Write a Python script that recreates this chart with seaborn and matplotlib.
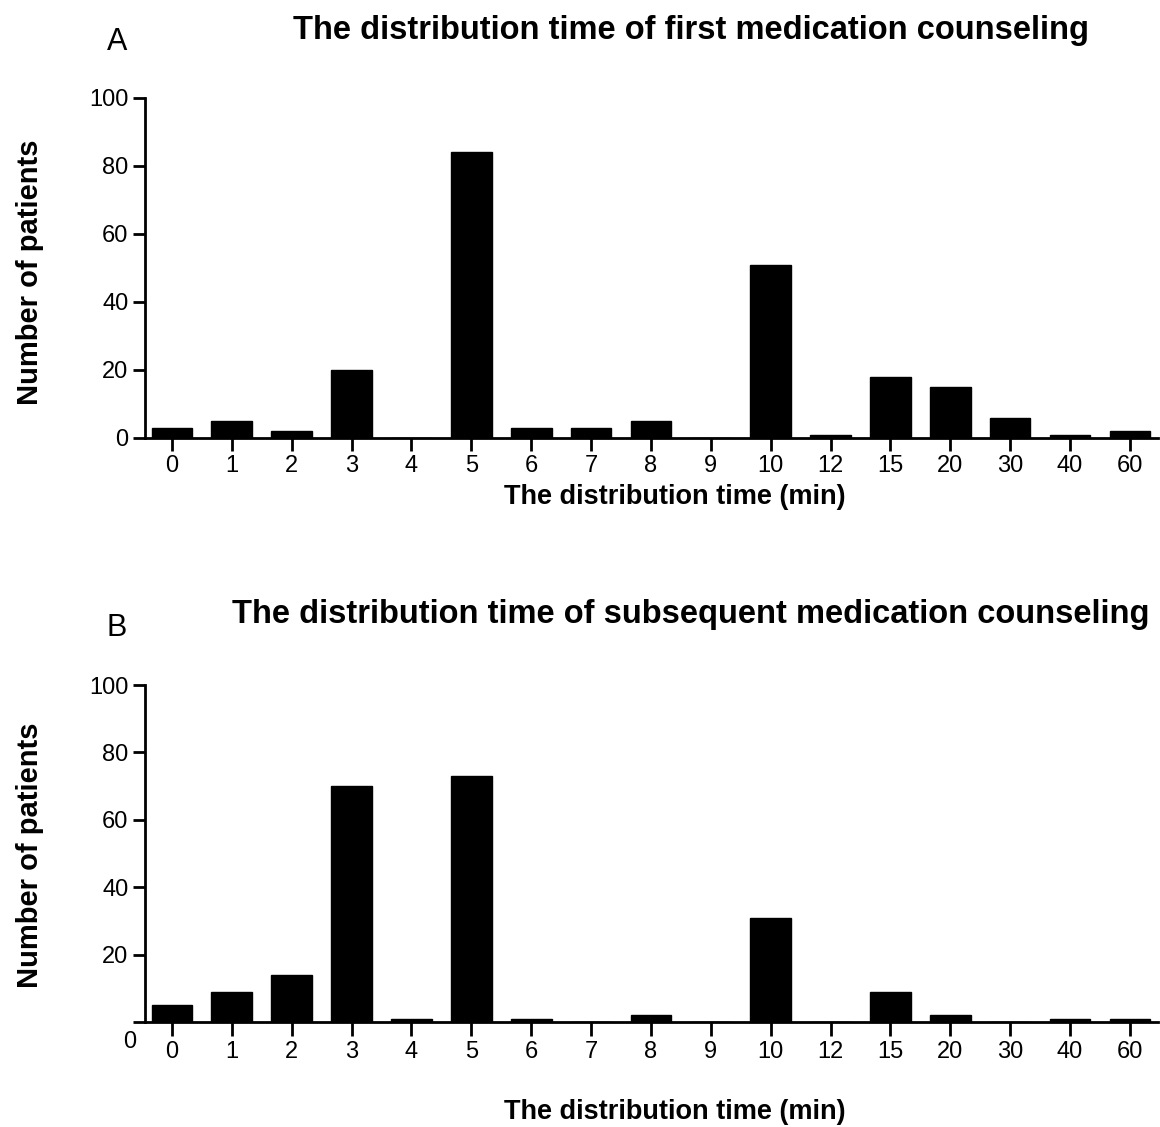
import numpy as np
import pandas as pd
import seaborn as sns
import matplotlib
matplotlib.use('Agg')
import matplotlib.pyplot as plt

# distribution time categories (min)
times = ['0', '1', '2', '3', '4', '5', '6', '7', '8', '9',
         '10', '12', '15', '20', '30', '40', '60']

# number of patients
first_counts = [3, 5, 2, 20, 0, 84, 3, 3, 5, 0, 51, 1, 18, 15, 6, 1, 2]
subsequent_counts = [5, 9, 14, 70, 1, 73, 1, 0, 2, 0, 31, 0, 9, 2, 0, 1, 1]

titles = ['The distribution time of first medication counseling',
          'The distribution time of subsequent medication counseling']
letters = ['A', 'B']

sns.set_style('ticks', rc={'text.color': 'black', 'axes.labelcolor': 'black',
                           'xtick.color': 'black', 'ytick.color': 'black',
                           'axes.edgecolor': 'black'})
plt.rcParams['font.family'] = ['Liberation Sans', 'DejaVu Sans']

W, H = 1160, 1127
fig = plt.figure(figsize=(W / 100, H / 100), dpi=100)


def px(x, y):
    # pixel position -> figure fraction
    return x / W, 1 - y / H


ax_a = fig.add_axes([145 / W, 1 - 438 / H, (1158 - 145) / W, (438 - 98) / H])
ax_b = fig.add_axes([145 / W, 1 - 1022 / H, (1158 - 145) / W, (1022 - 685) / H])

# panel layout in pixels: (title y, letter y, xlabel y, ylabel y)
layout = [(30, 42, 497, 272), (615, 628, 1112, 855)]

for i, (ax, counts) in enumerate(zip([ax_a, ax_b], [first_counts, subsequent_counts])):
    df = pd.DataFrame({'time': times, 'patients': counts})
    sns.barplot(data=df, x='time', y='patients', order=times, color='black',
                edgecolor='black', width=0.68, ax=ax, saturation=1)
    ax.set_xlim(-0.45, 16.47)
    ax.set_ylim(0, 100)
    sns.despine(ax=ax)
    ax.spines['left'].set_linewidth(2)
    ax.spines['bottom'].set_linewidth(2)
    ax.tick_params(axis='both', width=2, length=9, labelsize=17, pad=3)
    ax.set_xlabel('')
    ax.set_ylabel('')

    ty, ly, xy, yy = layout[i]
    fig.text(*px(691, ty), titles[i], fontsize=23.5, fontweight='bold',
             ha='center', va='center')
    fig.text(*px(117, ly), letters[i], fontsize=22, ha='center', va='center')
    fig.text(*px(675, xy), 'The distribution time (min)', fontsize=19.5,
             fontweight='bold', ha='center', va='center')
    fig.text(*px(30, yy), 'Number of patients', fontsize=21, fontweight='bold',
             ha='center', va='center', rotation=90)

ax_a.set_yticks([0, 20, 40, 60, 80, 100])
ax_b.set_yticks([0, 20, 40, 60, 80, 100])
ax_b.set_yticklabels(['', '20', '40', '60', '80', '100'])
ax_b.tick_params(axis='x', length=10, pad=4)
fig.text(*px(130, 1042), '0', fontsize=17, ha='center', va='center')

fig.savefig('out.png', dpi=100)
